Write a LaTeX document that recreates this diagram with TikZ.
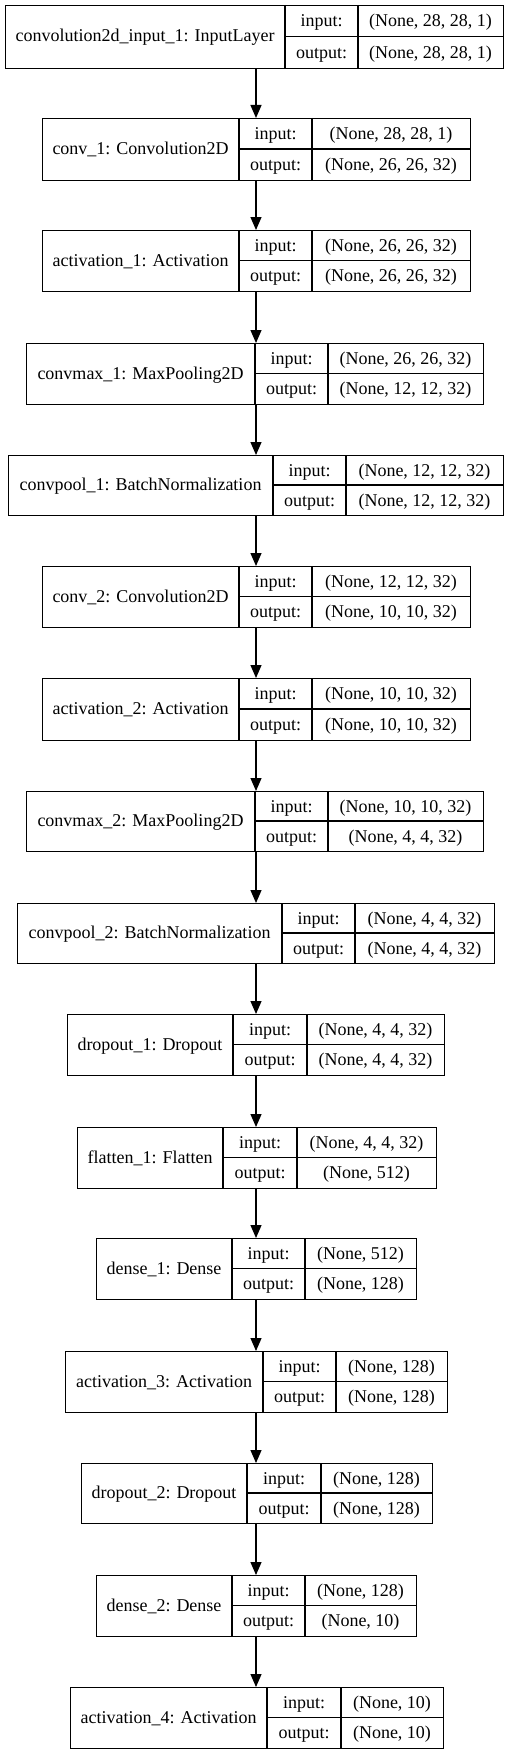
\documentclass[tikz,border=0pt]{standalone}
\usepackage{fontspec}
\setmainfont{Liberation Serif}
\usetikzlibrary{arrows.meta}
\tikzset{
  box/.style={draw=black, line width=1.2pt, inner sep=0pt, anchor=north west},
  divider/.style={draw=black, line width=1.2pt},
  txt/.style={inner sep=0pt, anchor=base, font=\fontsize{18}{21}\selectfont},
  arr/.style={draw=black, line width=1.2pt, -{Triangle[length=13pt,width=11pt]}},
}
\newcommand\layer[9]{\def\LYn{#1}\def\LYt{#2}\def\LYb{#3}\def\LYa{#4}\def\LYc{#5}\def\LYd{#6}\def\LYe{#7}\def\LYlab{#8}\def\LYin{#9}\layerfinish}
\newcommand\layerfinish[1]{%
  \pgfmathsetmacro\LYw{\LYe-\LYa}\pgfmathsetmacro\LYh{\LYb-\LYt}%
  \pgfmathsetmacro\LYm{(\LYt+\LYb)/2}%
  \pgfmathsetmacro\LYra{(\LYt+\LYm)/2+6}\pgfmathsetmacro\LYrb{(\LYm+\LYb)/2+6}%
  \pgfmathsetmacro\LYly{\LYm+5.5}%
  \pgfmathsetmacro\LYx{(\LYa+\LYc)/2}\pgfmathsetmacro\LYxx{(\LYc+\LYd)/2}\pgfmathsetmacro\LYxxx{(\LYd+\LYe)/2}%
  \node[box, minimum width=\LYw pt, minimum height=\LYh pt] (\LYn) at (\LYa,-\LYt) {};
  \draw[divider] (\LYc,-\LYt) -- (\LYc,-\LYb) (\LYd,-\LYt) -- (\LYd,-\LYb) (\LYc,-\LYm) -- (\LYe,-\LYm);
  \node[txt] (\LYn-lab) at (\LYx,-\LYly) {\LYlab};
  \node[txt] (\LYn-ik) at (\LYxx,-\LYra) {input:};
  \node[txt] (\LYn-ok) at (\LYxx,-\LYrb) {output:};
  \node[txt] (\LYn-iv) at (\LYxxx,-\LYra) {\LYin};
  \node[txt] (\LYn-ov) at (\LYxxx,-\LYrb) {#1};
}
\begin{document}
\begin{tikzpicture}[x=1pt,y=1pt]
\fill[white] (0,0) rectangle (512,-1755);
\useasboundingbox (0,0) rectangle (512,-1755);
\coordinate (ax) at (256,0);
\layer{L1}{5}{68}{5}{285}{358}{503}{convolution2d\_input\_1: InputLayer}{(None, 28, 28, 1)}{(None, 28, 28, 1)}
\layer{L2}{118}{180}{42}{239}{312}{470}{conv\_1: Convolution2D}{(None, 28, 28, 1)}{(None, 26, 26, 32)}
\layer{L3}{230}{291}{42}{239}{312}{470}{activation\_1: Activation}{(None, 26, 26, 32)}{(None, 26, 26, 32)}
\layer{L4}{343}{404}{26}{255}{328}{483}{convmax\_1: MaxPooling2D}{(None, 26, 26, 32)}{(None, 12, 12, 32)}
\layer{L5}{455}{515}{8}{273}{346}{503}{convpool\_1: BatchNormalization}{(None, 12, 12, 32)}{(None, 12, 12, 32)}
\layer{L6}{566}{627}{42}{239}{312}{470}{conv\_2: Convolution2D}{(None, 12, 12, 32)}{(None, 10, 10, 32)}
\layer{L7}{678}{740}{42}{239}{312}{470}{activation\_2: Activation}{(None, 10, 10, 32)}{(None, 10, 10, 32)}
\layer{L8}{791}{851}{26}{255}{328}{483}{convmax\_2: MaxPooling2D}{(None, 10, 10, 32)}{(None, 4, 4, 32)}
\layer{L9}{903}{963}{17}{282}{355}{494}{convpool\_2: BatchNormalization}{(None, 4, 4, 32)}{(None, 4, 4, 32)}
\layer{L10}{1014}{1075}{67}{233}{307}{444}{dropout\_1: Dropout}{(None, 4, 4, 32)}{(None, 4, 4, 32)}
\layer{L11}{1127}{1188}{77}{223}{297}{436}{flatten\_1: Flatten}{(None, 4, 4, 32)}{(None, 512)}
\layer{L12}{1238}{1299}{96}{232}{305}{416}{dense\_1: Dense}{(None, 512)}{(None, 128)}
\layer{L13}{1351}{1412}{65}{263}{336}{447}{activation\_3: Activation}{(None, 128)}{(None, 128)}
\layer{L14}{1463}{1523}{81}{247}{321}{432}{dropout\_2: Dropout}{(None, 128)}{(None, 128)}
\layer{L15}{1575}{1636}{96}{232}{305}{416}{dense\_2: Dense}{(None, 128)}{(None, 10)}
\layer{L16}{1687}{1748}{70}{267}{341}{443}{activation\_4: Activation}{(None, 10)}{(None, 10)}
\foreach \a/\b in {L1/L2,L2/L3,L3/L4,L4/L5,L5/L6,L6/L7,L7/L8,L8/L9,L9/L10,L10/L11,L11/L12,L12/L13,L13/L14,L14/L15,L15/L16}
  \draw[arr] (\a.south -| ax) -- (\b.north -| ax);
\end{tikzpicture}
\end{document}
